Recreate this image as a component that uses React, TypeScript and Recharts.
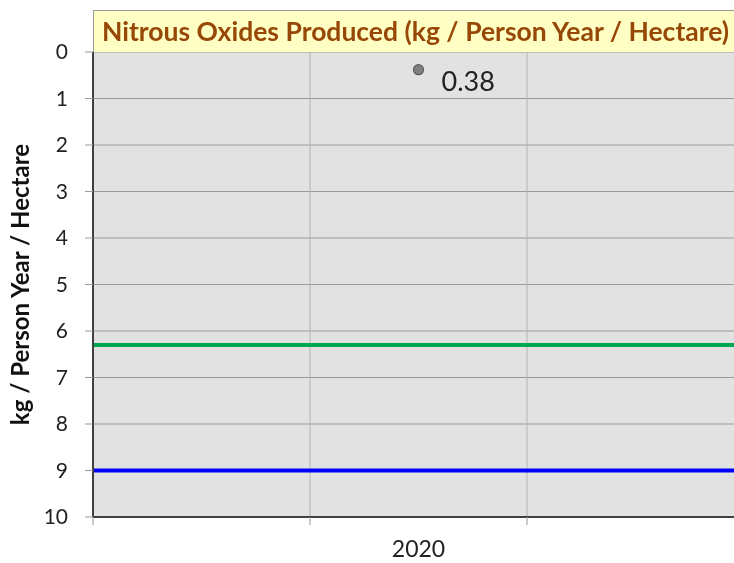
import React from 'react';
import {
  ComposedChart,
  Scatter,
  XAxis,
  YAxis,
  CartesianGrid,
  ReferenceLine,
  LabelList,
  Label,
} from 'recharts';

const title = 'Nitrous Oxides Produced (kg / Person Year / Hectare)';
const yAxisTitle = 'kg / Person Year / Hectare';
const years = ['2020'];
const yearPositions = [1.5];
const values = [0.38];
const greenLevel = 6.3;
const blueLevel = 9.0;
const yTicks = [0, 1, 2, 3, 4, 5, 6, 7, 8, 9, 10];
const xBoundaries = [0, 1, 2];
const xDomain: [number, number] = [0, 2.954];

const data = years.map((y, i) => ({ year: y, x: yearPositions[i], v: values[i] }));
const xTicks = [...xBoundaries, ...yearPositions].sort((a, b) => a - b);

const FONT = 'Lato, "Open Sans", sans-serif';

const XTick = (props: any) => {
  const { x, y, payload } = props;
  const idx = yearPositions.indexOf(payload.value);
  if (idx >= 0) {
    return (
      <text x={x} y={y + 32} textAnchor="middle" fontSize={23} fill="#222" fontFamily={FONT}>
        {years[idx]}
      </text>
    );
  }
  return <line x1={x} x2={x} y1={y - 8} y2={y} stroke="#999" strokeWidth={1} />;
};

const PointShape = (props: any) => {
  const { cx, cy } = props;
  return <circle cx={cx} cy={cy} r={5} fill="#808080" stroke="#5a5a5a" strokeWidth={1.2} />;
};

const ValueLabel = (props: any) => {
  const { x, y, width, height, value } = props;
  const cx = x + (width || 0) / 2;
  const cy = y + (height || 0) / 2;
  return (
    <text x={cx + 23} y={cy + 21} fontSize={27} fill="#222" fontFamily={FONT}>
      {Number(value).toFixed(2)}
    </text>
  );
};

export default function App() {
  return (
    <div style={{ position: 'fixed', left: 0, top: 0, width: 734, height: 563 }}>
      <ComposedChart
        width={734}
        height={563}
        data={data}
        margin={{ top: 52, right: 0, bottom: 0, left: 8 }}
        style={{ fontFamily: FONT }}
      >
        <CartesianGrid
          fill="#e2e2e2"
          stroke="#9a9a9a"
          strokeWidth={1}
          vertical={false}
        />
        {xBoundaries.slice(1).map((b) => (
          <ReferenceLine key={b} x={b} stroke="#b4b4b4" strokeWidth={1} />
        ))}
        <XAxis
          type="number"
          dataKey="x"
          domain={xDomain}
          allowDataOverflow
          ticks={xTicks}
          tickLine={false}
          tick={<XTick />}
          interval={0}
          axisLine={{ stroke: '#404040', strokeWidth: 2 }}
          height={46}
        />
        <YAxis
          type="number"
          reversed
          domain={[0, 10]}
          ticks={yTicks}
          interval={0}
          width={85}
          tickSize={8}
          tickMargin={17}
          tickLine={{ stroke: '#999' }}
          axisLine={{ stroke: '#404040', strokeWidth: 2 }}
          tick={{ fontSize: 21, fill: '#222', fontFamily: FONT }}
        >
          <Label
            value={yAxisTitle}
            angle={-90}
            position="insideLeft"
            offset={12}
            style={{ fontSize: 24, fontWeight: 'bold', fill: '#111', textAnchor: 'middle', fontFamily: FONT }}
          />
        </YAxis>
        <ReferenceLine y={greenLevel} stroke="#00a650" strokeWidth={4} />
        <ReferenceLine y={blueLevel} stroke="#0000ff" strokeWidth={4} />
        <Scatter dataKey="v" shape={<PointShape />} isAnimationActive={false}>
          <LabelList dataKey="v" content={<ValueLabel />} />
        </Scatter>
      </ComposedChart>
      <div
        style={{
          position: 'absolute',
          left: 93,
          top: 10,
          width: 641,
          height: 42,
          background: '#ffffc4',
          borderTop: '1px solid #999',
          borderLeft: '1px solid #999',
          boxSizing: 'border-box',
          color: '#974806',
          fontFamily: FONT,
          fontWeight: 'bold',
          fontSize: 26.5,
          lineHeight: '40px',
          paddingLeft: 8,
          whiteSpace: 'nowrap',
          overflow: 'hidden',
        }}
      >
        {title}
      </div>
    </div>
  );
}
